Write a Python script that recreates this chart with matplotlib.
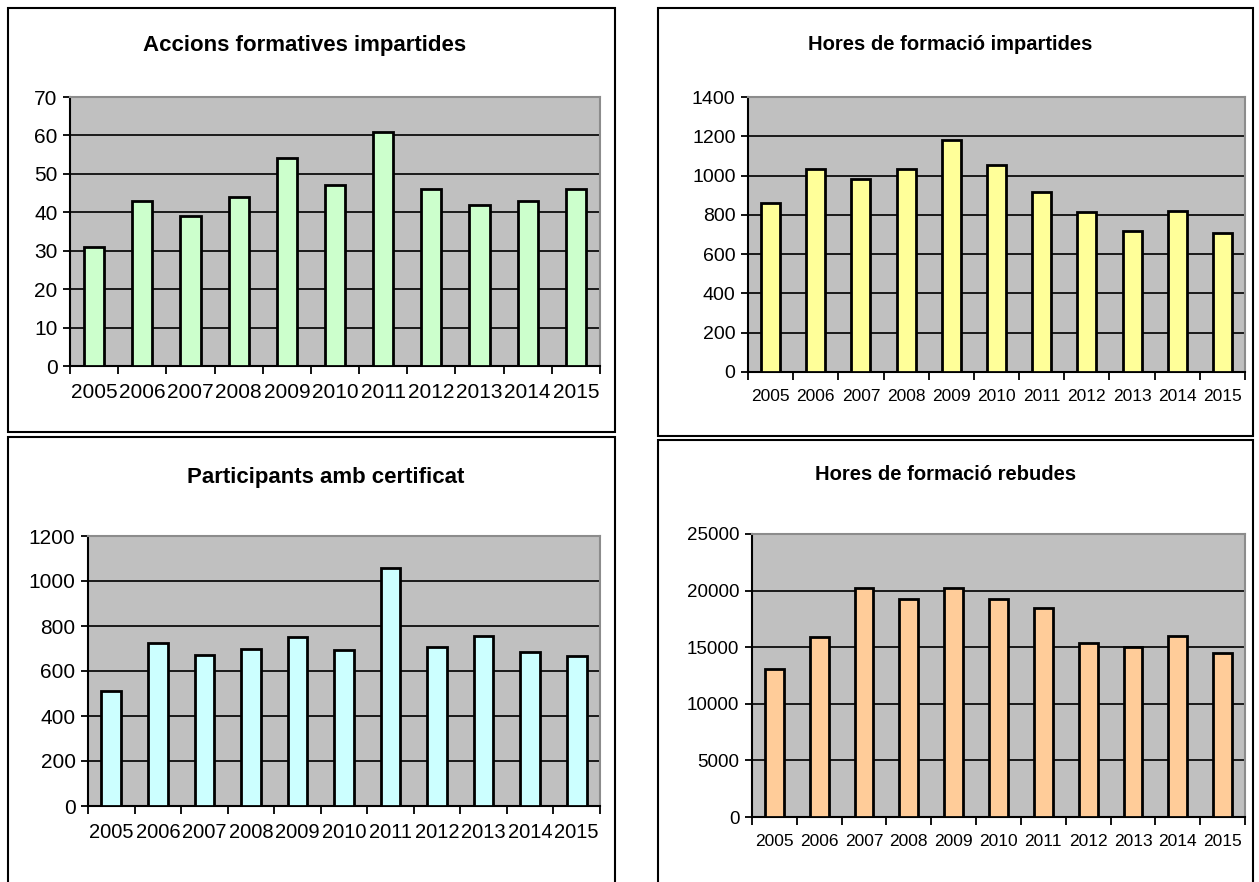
import matplotlib
matplotlib.use("Agg")
import matplotlib.pyplot as plt
from matplotlib.patches import Rectangle

plt.rcParams['font.family'] = ['Liberation Sans', 'DejaVu Sans']

years = ['2005', '2006', '2007', '2008', '2009', '2010', '2011', '2012', '2013', '2014', '2015']

accions = [31, 43, 39, 44, 54, 47, 61, 46, 42, 43, 46]
hores_impartides = [860, 1035, 985, 1035, 1180, 1055, 915, 815, 720, 820, 710]
participants = [510, 725, 670, 700, 750, 695, 1060, 705, 755, 685, 665]
hores_rebudes = [13100, 15900, 20200, 19300, 20200, 19300, 18500, 15400, 15000, 16000, 14500]

W, H = 1259, 882
fig = plt.figure(figsize=(W / 100, H / 100), dpi=100)

def px_axes(left, top, right, bottom):
    return fig.add_axes([left / W, 1 - bottom / H, (right - left) / W, (bottom - top) / H])

def box(left, top, right, bottom):
    fig.patches.append(Rectangle((left / W, 1 - bottom / H), (right - left) / W, (bottom - top) / H,
                                 transform=fig.transFigure, fill=False, edgecolor='black', linewidth=1.5))

def panel(rect, values, color, ymax, ystep, title, title_xy, xfs, yfs, tfs):
    ax = px_axes(*rect)
    ax.set_facecolor('#c0c0c0')
    x = list(range(len(values)))
    ax.bar(x, values, width=0.42, color=color, edgecolor='black', linewidth=2, zorder=3)
    ax.set_xlim(-0.5, len(values) - 0.5)
    ax.set_ylim(0, ymax)
    ax.set_yticks(range(0, ymax + 1, ystep))
    ax.yaxis.grid(True, color='#1a1a1a', linewidth=1.4)
    ax.set_axisbelow(True)
    # ticks between the categories, labels centred under the bars
    ax.set_xticks([i - 0.5 for i in range(len(values) + 1)])
    ax.set_xticklabels([])
    ax.set_xticks(x, minor=True)
    ax.set_xticklabels(years, minor=True, fontsize=xfs)
    ax.tick_params(axis='x', which='minor', length=0, pad=12)
    ax.tick_params(axis='x', which='major', length=6, width=1.3, direction='out')
    ax.tick_params(axis='y', length=5, width=1.3, labelsize=yfs, pad=4)
    for s in ['left', 'bottom']:
        ax.spines[s].set_linewidth(1.5)
        ax.spines[s].set_color('black')
    for s in ['top', 'right']:
        ax.spines[s].set_linewidth(1.5)
        ax.spines[s].set_color('#8c8c8c')
    fig.text(title_xy[0] / W, 1 - title_xy[1] / H, title, ha='center', va='center',
             fontsize=tfs, fontweight='bold')
    return ax

box(8, 8, 615, 432)
box(658, 8, 1253, 436)
box(8, 437, 615, 890)
box(658, 440, 1253, 890)

panel((70, 97, 600, 366), accions, '#ccffcc', 70, 10, 'Accions formatives impartides', (305, 45), 15, 15, 16)
panel((748, 97, 1245, 372), hores_impartides, '#ffff99', 1400, 200, 'Hores de formació impartides', (950, 45), 12.5, 14, 14.5)
panel((88, 536, 600, 806), participants, '#ccffff', 1200, 200, 'Participants amb certificat', (326, 478), 14.5, 15, 16)
panel((752, 534, 1245, 817), hores_rebudes, '#ffcc99', 25000, 5000, 'Hores de formació rebudes', (946, 475), 12.5, 13.5, 14.5)

fig.savefig('out.png', dpi=100)
